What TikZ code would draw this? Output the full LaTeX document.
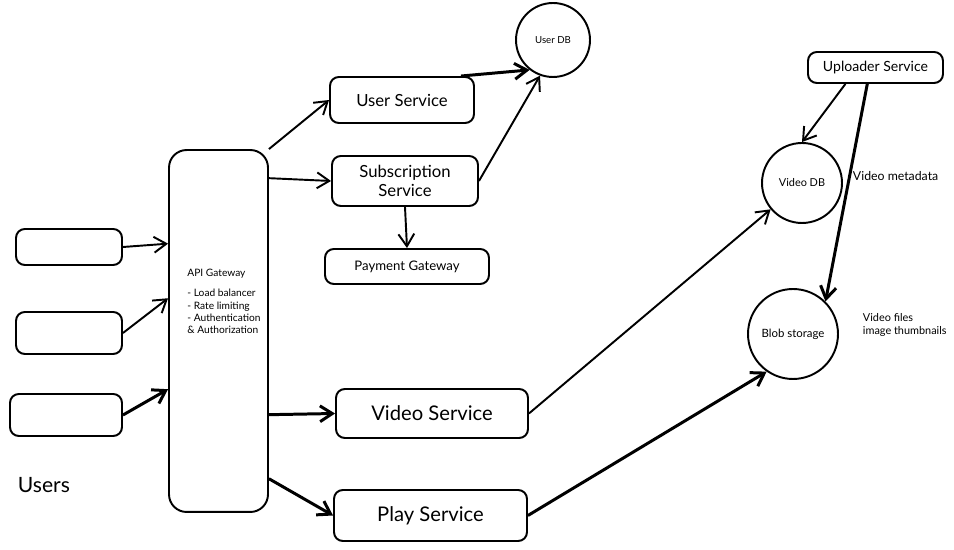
\documentclass[tikz,border=0pt]{standalone}
\usepackage{fontspec}
\setmainfont{Lato}
\usetikzlibrary{positioning,calc,arrows.meta}

\begin{document}
\begin{tikzpicture}[x=0.02cm, y=-0.02cm, line width=1.1pt, >={Straight Barb[length=7pt,width=9pt]},
    box/.style = {draw, rounded corners=5pt, inner sep=0pt},
    db/.style = {draw, circle, inner sep=0pt},
    bold/.style = {line width=1.7pt},
    note/.style = {inner sep=0pt, align=left}]
  \useasboundingbox (0,0) rectangle (954,550);

  % clients
  \node[box, minimum width=2.12cm, minimum height=0.72cm] (u1) at (69,247) {};
  \node[box, minimum width=2.12cm, minimum height=0.84cm] (u2) at (69,333) {};
  \node[box, minimum width=2.24cm, minimum height=0.84cm] (u3) at (66,415) {};
  \node[note, anchor=west, font=\fontsize{12}{14}\selectfont] (users) at (17,485) {Users};

  % gateway
  \node[box, rounded corners=10pt, minimum width=1.98cm, minimum height=7.24cm] (gw) at (218.5,331) {};
  \node[note, font=\fontsize{5.8}{6.9}\selectfont] (gwtext) at (224,301)
    {API Gateway\\[5pt]- Load balancer\\- Rate limiting\\- Authentication\\\& Authorization};

  % services
  \node[box, minimum width=2.88cm, minimum height=0.92cm, font=\fontsize{9.5}{11}\selectfont] (usr) at (402,100) {User Service};
  \node[box, minimum width=2.92cm, minimum height=1.0cm, align=center, font=\fontsize{9.5}{10.5}\selectfont] (sub) at (405,181) {Subscription\\Service};
  \node[box, minimum width=3.28cm, minimum height=0.7cm, font=\fontsize{7.5}{9}\selectfont] (pay) at (407,266.5) {Payment Gateway};
  \node[box, minimum width=3.84cm, minimum height=0.98cm, font=\fontsize{11.5}{13}\selectfont] (vid) at (432,413.5) {Video Service};
  \node[box, minimum width=3.86cm, minimum height=1.02cm, font=\fontsize{11.5}{13}\selectfont] (play) at (430.5,515.5) {Play Service};
  \node[box, minimum width=2.7cm, minimum height=0.62cm, font=\fontsize{8}{10}\selectfont] (upl) at (875.5,67.5) {Uploader Service};

  % storage
  \node[db, minimum size=1.48cm, font=\fontsize{5.5}{7}\selectfont] (udb) at (553,40) {User DB};
  \node[db, minimum size=1.6cm, font=\fontsize{6.2}{7}\selectfont] (vdb) at (802,183) {Video DB};
  \node[db, minimum size=1.8cm, font=\fontsize{6.5}{8}\selectfont] (blob) at (793,334) {Blob storage};
  \node[note, anchor=west, font=\fontsize{7}{8}\selectfont] (meta) at (852,176) {Video metadata};
  \node[note, anchor=west, font=\fontsize{6.2}{7.2}\selectfont] (files) at (862,325) {Video files\\image thumbnails};

  % connectors
  \draw[->] (u1.east) -- ($(gw.north west)!0.26!(gw.south west)$);
  \draw[->] (u2.east) -- ($(gw.north west)!0.41!(gw.south west)$);
  \draw[->, bold] (u3.east) -- ($(gw.north west)!0.66!(gw.south west)$);
  \draw[->] (gw.north east) -- (usr.west);
  \draw[->] ($(gw.north east)!0.08!(gw.south east)$) -- (sub.west);
  \draw[->, bold] ($(gw.north east)!0.73!(gw.south east)$) -- (vid.west);
  \draw[->, bold] ($(gw.north east)!0.906!(gw.south east)$) -- (play.west);
  \draw[->, bold] ([xshift=-8pt]usr.north east) -- (udb.232);
  \draw[->] (sub.east) -- (udb.250);
  \draw[->] (sub.south) -- (pay.north);
  \draw[->] (vid.east) -- (vdb.220);
  \draw[->, bold] (play.east) -- (blob.235);
  \draw[->] ($(upl.south west)!0.28!(upl.south east)$) -- (vdb.north);
  \draw[->, bold] ($(upl.south west)!0.44!(upl.south east)$) -- (blob.45);
\end{tikzpicture}
\end{document}
